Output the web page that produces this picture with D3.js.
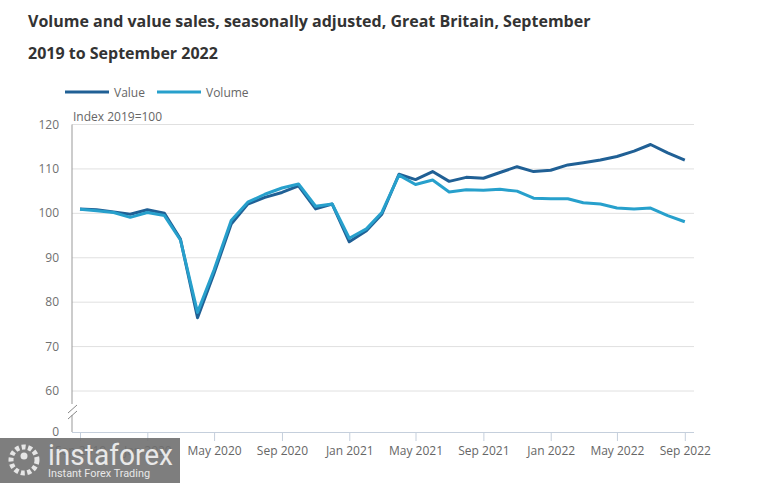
<!DOCTYPE html>
<html>
<head>
<meta charset="utf-8">
<script src="https://cdn.jsdelivr.net/npm/d3@7"></script>
<style>
  body { margin: 0; background: #fff; }
  svg { display: block; font-family: "Open Sans", sans-serif; }
</style>
</head>
<body>
<svg id="chart" width="763" height="483"></svg>
<script>
const months = ["2019-09","2019-10","2019-11","2019-12","2020-01","2020-02","2020-03","2020-04","2020-05","2020-06","2020-07","2020-08","2020-09","2020-10","2020-11","2020-12","2021-01","2021-02","2021-03","2021-04","2021-05","2021-06","2021-07","2021-08","2021-09","2021-10","2021-11","2021-12","2022-01","2022-02","2022-03","2022-04","2022-05","2022-06","2022-07","2022-08","2022-09"];
const valueSeries = [101.0,100.8,100.3,99.8,100.8,100.0,94.2,76.5,86.5,97.6,102.1,103.6,104.7,106.2,101.0,102.1,93.6,96.1,99.8,108.8,107.6,109.4,107.2,108.1,107.9,109.2,110.5,109.4,109.7,110.9,111.4,112.0,112.8,114.0,115.5,113.6,112.0];
const volumeSeries = [100.9,100.6,100.2,99.1,100.2,99.5,94.0,77.7,87.3,98.4,102.5,104.3,105.7,106.6,101.6,102.1,94.4,96.5,100.2,108.6,106.5,107.5,104.8,105.3,105.2,105.4,105.0,103.4,103.3,103.3,102.4,102.1,101.2,101.0,101.2,99.5,98.1];
const seriesNames = ["Value","Volume"];
const yTicks = [0,60,70,80,90,100,110,120];
const xTickLabels = ["Sep 2019","Jan 2020","May 2020","Sep 2020","Jan 2021","May 2021","Sep 2021","Jan 2022","May 2022","Sep 2022"];
const titleLines = ["Volume and value sales, seasonally adjusted, Great Britain, September","2019 to September 2022"];
const yAxisTitle = "Index 2019=100";

(function () {
const colors = { Value: "#206095", Volume: "#27a0cc" };
const parse = d3.timeParse("%Y-%m");
const dates = months.map(parse);

const svg = d3.select("#chart");
const pLeft = 72, pRight = 694, pBottom = 432, pTop = 124.5;

const x = d3.scaleTime().domain([dates[0], dates[dates.length-1]]).range([80, 684.8]);
const y = d3.scaleLinear().domain([0, 60, 120]).range([pBottom, 391, pTop]);

// title
svg.append("g").selectAll("text").data(titleLines).join("text")
  .attr("x", 28).attr("y", (d,i) => 27 + i*32)
  .attr("font-size", 16).attr("font-weight", 700).attr("fill", "#333")
  .text(d => d);

// legend
const lg = svg.append("g");
seriesNames.forEach((n, i) => {
  const lx = 65 + i*92;
  lg.append("line").attr("x1", lx).attr("x2", lx+44).attr("y1", 92).attr("y2", 92)
    .attr("stroke", colors[n]).attr("stroke-width", 3);
  lg.append("text").attr("x", lx+49).attr("y", 96.5).attr("font-size", 12).attr("fill", "#666").text(n);
});

// gridlines
svg.append("g").selectAll("line").data(yTicks.filter(t => t > 0)).join("line")
  .attr("x1", pLeft).attr("x2", pRight).attr("y1", d => y(d)).attr("y2", d => y(d))
  .attr("stroke", "#e0e0e0").attr("stroke-width", 1);

// y tick labels
svg.append("g").selectAll("text").data(yTicks).join("text")
  .attr("x", 59).attr("y", d => y(d) + 4).attr("text-anchor", "end")
  .attr("font-size", 12).attr("fill", "#707070").text(d => d);

svg.append("text").attr("x", 73).attr("y", 121).attr("font-size", 12).attr("fill", "#666").text(yAxisTitle);

// y axis line with break
svg.append("line").attr("x1", pLeft).attr("x2", pLeft).attr("y1", pTop).attr("y2", 404).attr("stroke", "#999");
svg.append("line").attr("x1", pLeft).attr("x2", pLeft).attr("y1", 415).attr("y2", pBottom).attr("stroke", "#999");
[0, 6].forEach((o) => {
  svg.append("line").attr("x1", 68).attr("x2", 77).attr("y1", 419 - o).attr("y2", 411 - o)
    .attr("stroke", "#888").attr("stroke-width", 1);
});

// x axis
const tickDates = xTickLabels.map(d3.timeParse("%b %Y"));
svg.append("line").attr("x1", pLeft).attr("x2", pRight).attr("y1", pBottom + 0.5).attr("y2", pBottom + 0.5)
  .attr("stroke", "#c5cfdc");
const xa = svg.append("g").attr("transform", `translate(0,${pBottom})`)
  .call(d3.axisBottom(x).tickValues(tickDates).tickFormat(d3.timeFormat("%b %Y")).tickSize(9).tickPadding(5));
xa.select(".domain").remove();
xa.selectAll(".tick line").attr("stroke", "#c5cfdc");
xa.selectAll(".tick text").attr("font-size", 12).attr("fill", "#666").attr("font-family", "Open Sans, sans-serif");

// lines
const line = d3.line().x((d,i) => x(dates[i])).y(d => y(d));
[["Value", valueSeries], ["Volume", volumeSeries]].forEach(([n, s]) => {
  svg.append("path").datum(s).attr("d", line).attr("fill", "none")
    .attr("stroke", colors[n]).attr("stroke-width", 3).attr("stroke-linejoin", "round");
});

// watermark
const wm = svg.append("g");
wm.append("rect").attr("x", 0).attr("y", 438).attr("width", 180).attr("height", 45).attr("fill", "rgba(112,112,112,0.9)");
wm.append("circle").attr("cx", 24).attr("cy", 460).attr("r", 13).attr("fill", "none").attr("stroke", "#e6e6e6").attr("stroke-width", 5).attr("stroke-dasharray", "4 2.5");
wm.append("circle").attr("cx", 24).attr("cy", 456).attr("r", 3.5).attr("fill", "#e6e6e6");
wm.append("text").attr("x", 48).attr("y", 465).attr("font-family", "Roboto, sans-serif").attr("font-size", 29)
  .attr("textLength", 125).attr("lengthAdjust", "spacingAndGlyphs").attr("fill", "#e8e8e8").text("instaforex");
wm.append("text").attr("x", 48).attr("y", 477).attr("font-family", "Roboto, sans-serif").attr("font-size", 10.5)
  .attr("textLength", 102).attr("lengthAdjust", "spacingAndGlyphs").attr("fill", "#e8e8e8").text("Instant Forex Trading");
})();
</script>
</body>
</html>
